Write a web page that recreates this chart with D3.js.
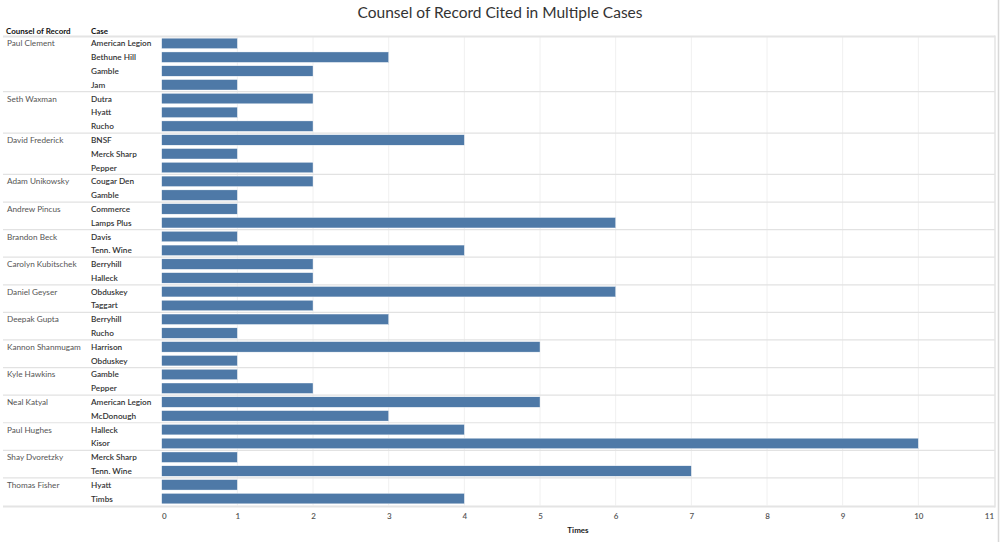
<!DOCTYPE html>
<html>
<head>
<meta charset="utf-8">
<script src="https://cdn.jsdelivr.net/npm/d3@7"></script>
<style>
  body { margin: 0; background: #fff; }
  text { font-family: Lato, "Open Sans", sans-serif; }
</style>
</head>
<body>
<div class="main"></div>
<script>
// Data: one entry per counsel, with their cases and counts
let counsels = ["Paul Clement", "Seth Waxman", "David Frederick", "Adam Unikowsky", "Andrew Pincus",
    "Brandon Beck", "Carolyn Kubitschek", "Daniel Geyser", "Deepak Gupta", "Kannon Shanmugam",
    "Kyle Hawkins", "Neal Katyal", "Paul Hughes", "Shay Dvoretzky", "Thomas Fisher"];
let cases = [
    ["American Legion", "Bethune Hill", "Gamble", "Jam"],
    ["Dutra", "Hyatt", "Rucho"],
    ["BNSF", "Merck Sharp", "Pepper"],
    ["Cougar Den", "Gamble"],
    ["Commerce", "Lamps Plus"],
    ["Davis", "Tenn. Wine"],
    ["Berryhill", "Halleck"],
    ["Obduskey", "Taggart"],
    ["Berryhill", "Rucho"],
    ["Harrison", "Obduskey"],
    ["Gamble", "Pepper"],
    ["American Legion", "McDonough"],
    ["Halleck", "Kisor"],
    ["Merck Sharp", "Tenn. Wine"],
    ["Hyatt", "Timbs"]
];
let times = [
    [1, 3, 2, 1],
    [2, 1, 2],
    [4, 1, 2],
    [2, 1],
    [1, 6],
    [1, 4],
    [2, 2],
    [6, 2],
    [3, 1],
    [5, 1],
    [1, 2],
    [5, 3],
    [4, 10],
    [1, 7],
    [1, 4]
];
let xTicks = [0, 1, 2, 3, 4, 5, 6, 7, 8, 9, 10, 11];

// flatten into rows
let rows = [];
counsels.forEach(function(c, gi) {
    cases[gi].forEach(function(k, j) {
        rows.push({ id: gi + "_" + j, group: gi, counsel: c, kase: k, first: j == 0, value: times[gi][j] });
    });
});

let width = 1000, height = 542;
let svg = d3.select("div.main").append("svg")
    .attr("width", width)
    .attr("height", height);

// plot edges
let pLeft = 161, pRight = 995, pTop = 36.5, pBottom = 505.5;

let x = d3.scaleLinear().domain([0, 11]).range([pLeft + 0.7, pRight - 1]);
let y = d3.scaleBand().domain(rows.map(r => r.id)).range([pTop, pBottom]).paddingInner(0.24).paddingOuter(0.12);
let step = y.step();

// title
svg.append("text")
    .attr("x", 500).attr("y", 18)
    .attr("text-anchor", "middle")
    .attr("font-size", 15.5)
    .attr("fill", "#333")
    .text("Counsel of Record Cited in Multiple Cases");

// column headers
svg.append("text").attr("x", 6).attr("y", 33.5)
    .attr("font-size", 8).attr("font-weight", "bold").attr("fill", "#111")
    .text("Counsel of Record");
svg.append("text").attr("x", 91).attr("y", 33.5)
    .attr("font-size", 8).attr("font-weight", "bold").attr("fill", "#111")
    .text("Case");

// vertical gridlines
svg.append("g").selectAll("line").data(xTicks.slice(1, 11)).join("line")
    .attr("x1", d => x(d)).attr("x2", d => x(d))
    .attr("y1", pTop).attr("y2", pBottom)
    .attr("stroke", "#f0f0f0");

// group separators
let firstRows = rows.filter(r => r.first);
svg.append("g").selectAll("line").data(firstRows).join("line")
    .attr("x1", 3).attr("x2", pRight)
    .attr("y1", d => y(d.id) - step * 0.12).attr("y2", d => y(d.id) - step * 0.12)
    .attr("stroke", d => d.group == 0 ? "#e4e4e4" : "#e2e2e2")
    .attr("stroke-width", d => d.group == 0 ? 2 : 1.2);

svg.append("line").attr("x1", 3).attr("x2", pRight).attr("y1", pBottom + 1).attr("y2", pBottom + 1)
    .attr("stroke", "#e4e4e4").attr("stroke-width", 2);
svg.append("line").attr("x1", pRight).attr("x2", pRight).attr("y1", pTop - 1).attr("y2", pBottom + 2)
    .attr("stroke", "#e4e4e4").attr("stroke-width", 1.5);
svg.append("line").attr("x1", 998.5).attr("x2", 998.5).attr("y1", 0).attr("y2", height)
    .attr("stroke", "#d8d8d8").attr("stroke-width", 1.5);

// bars
svg.append("g").selectAll("rect").data(rows).join("rect")
    .attr("x", x(0))
    .attr("y", d => y(d.id))
    .attr("width", d => x(d.value) - x(0))
    .attr("height", y.bandwidth())
    .attr("fill", "#4e79a7")
    .attr("stroke", "#fff")
    .attr("stroke-width", 0.4);

// case labels
svg.append("g").selectAll("text").data(rows).join("text")
    .attr("x", 91)
    .attr("y", d => y(d.id) + y.bandwidth() / 2 + 3)
    .attr("font-size", 8.2)
    .attr("font-weight", 600)
    .attr("fill", "#333")
    .text(d => d.kase);

// counsel labels
svg.append("g").selectAll("text").data(firstRows).join("text")
    .attr("x", 7)
    .attr("y", d => y(d.id) + y.bandwidth() / 2 + 3)
    .attr("font-size", 8.2)
    .attr("fill", "#555")
    .text(d => d.counsel);

// x axis
let axis = svg.append("g")
    .attr("transform", "translate(0," + (pBottom + 3) + ")")
    .call(d3.axisBottom(x).tickValues(xTicks).tickSize(0).tickPadding(5));
axis.select(".domain").remove();
axis.selectAll("text")
    .attr("font-family", "Lato, sans-serif")
    .attr("font-size", 8)
    .attr("font-weight", 600)
    .attr("fill", "#555")
    .attr("dx", d => d == 0 ? 2 : (d == 11 ? -5 : 0));

svg.append("text")
    .attr("x", (pLeft + pRight) / 2).attr("y", 533)
    .attr("text-anchor", "middle")
    .attr("font-size", 8).attr("font-weight", "bold").attr("fill", "#222")
    .text("Times");
</script>
</body>
</html>
